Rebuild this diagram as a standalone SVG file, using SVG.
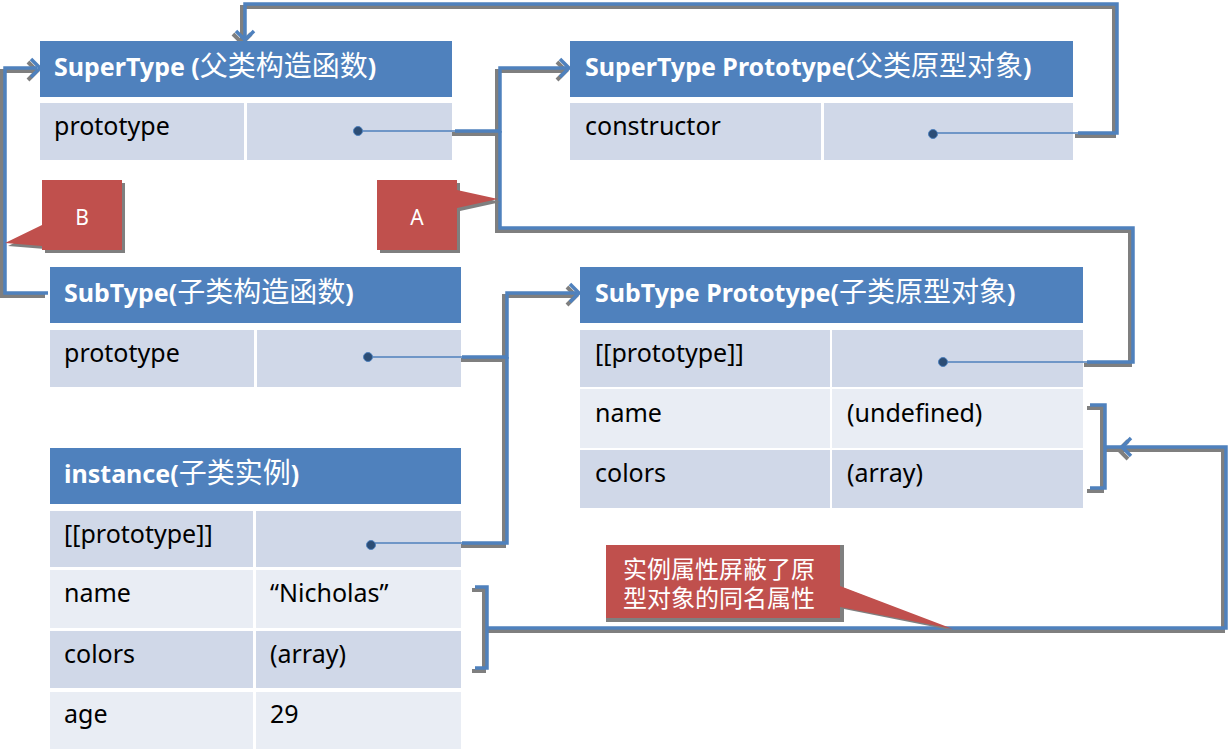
<svg xmlns="http://www.w3.org/2000/svg" xmlns:xlink="http://www.w3.org/1999/xlink" width="1228" height="752" viewBox="0 0 1228 752">
<style>
text{font-family:"Noto Sans","Noto Sans CJK SC",sans-serif;}
.hd{fill:#4F81BD;}
.dk{fill:#D0D8E8;}
.lt{fill:#E9EDF4;}
.h{font-size:25px;font-weight:bold;fill:#fff;}
.cj{font-size:28px;font-weight:normal;font-family:"Noto Sans CJK SC",sans-serif;}
.r{font-size:25px;fill:#000;}
.call{fill:#C0504D;}
.callsh{fill:#7F7F7F;}
.ct{font-size:24px;fill:#fff;font-family:"Noto Sans CJK SC",sans-serif;}
.lbl{font-size:21px;fill:#fff;}
.sh{stroke:#7F7F7F;stroke-width:4;fill:none;}
.ln{stroke:#4F81BD;stroke-width:3.5;fill:none;}
.thin{stroke:#4F81BD;stroke-width:1.6;fill:none;}
.dot{fill:#2C4D75;stroke:#4F81BD;stroke-width:1;}
</style>
<defs>
<path id="c1" d="M455,131 H500 V68 H567"/>
<path id="c2" d="M1087,362 H1133 V228 H500 V131"/>
<path id="c3" d="M1078,133 H1117 V4 H245 V38"/>
<path id="c4" d="M48,293 H5 V68 H37"/>
<path id="c5" d="M462,357 H507 V293 H577"/>
<path id="c6" d="M462,543 H507 V357"/>
<path id="c7" d="M1090,405 H1105 V488 H1090 M1105,447 H1123"/>
<path id="c8" d="M475,587 H487 V668 H475 M487,628 H1226 V447 H1124"/>
<path id="a1" d="M560,59 L569,68 L560,77"/>
<path id="a2" d="M236,31 L245,40 L254,31"/>
<path id="a3" d="M31,59 L40,68 L31,77"/>
<path id="a4" d="M570,284 L579,293 L570,302"/>
<path id="a5" d="M1131,438 L1122,447 L1131,456"/>
</defs>

<g id="connectors">
<g transform="translate(-3,3)" class="sh">
<use xlink:href="#c1"/><use xlink:href="#c2"/><use xlink:href="#c3"/><use xlink:href="#c4"/>
<use xlink:href="#c5"/><use xlink:href="#c6"/><use xlink:href="#c7"/><use xlink:href="#c8"/>
<use xlink:href="#a1"/><use xlink:href="#a2"/><use xlink:href="#a3"/><use xlink:href="#a4"/><use xlink:href="#a5"/>
</g>
<g class="ln">
<use xlink:href="#c1"/><use xlink:href="#c2"/><use xlink:href="#c3"/><use xlink:href="#c4"/>
<use xlink:href="#c5"/><use xlink:href="#c6"/><use xlink:href="#c7"/><use xlink:href="#c8"/>
<use xlink:href="#a1"/><use xlink:href="#a2"/><use xlink:href="#a3"/><use xlink:href="#a4"/><use xlink:href="#a5"/>
</g>
</g>

<g id="supertype">
<rect class="hd" x="40" y="41" width="412" height="56"/>
<rect class="dk" x="40" y="103" width="204" height="57"/>
<rect class="dk" x="247" y="103" width="205" height="57"/>
<text class="h" x="54" y="76">SuperType (<tspan class="cj">父类构造函数</tspan>)</text>
<text class="r" x="54" y="135">prototype</text>
<line class="thin" x1="358" y1="131" x2="455" y2="131"/>
<circle class="dot" cx="358" cy="131" r="4.5"/>
</g>

<g id="supertype-prototype">
<rect class="hd" x="570" y="41" width="503" height="56"/>
<rect class="dk" x="570" y="103" width="251" height="57"/>
<rect class="dk" x="824" y="103" width="249" height="57"/>
<text class="h" x="585" y="76">SuperType Prototype(<tspan class="cj">父类原型对象</tspan>)</text>
<text class="r" x="585" y="135">constructor</text>
<line class="thin" x1="933" y1="133" x2="1078" y2="133"/>
<circle class="dot" cx="933" cy="134" r="4.5"/>
</g>

<g id="subtype">
<rect class="hd" x="50" y="267" width="411" height="56"/>
<rect class="dk" x="50" y="330" width="204" height="57"/>
<rect class="dk" x="257" y="330" width="204" height="57"/>
<text class="h" x="64" y="302">SubType(<tspan class="cj">子类构造函数</tspan>)</text>
<text class="r" x="64" y="362">prototype</text>
<line class="thin" x1="368" y1="357" x2="462" y2="357"/>
<circle class="dot" cx="368" cy="357" r="4.5"/>
</g>

<g id="subtype-prototype">
<rect class="hd" x="580" y="267" width="503" height="56"/>
<rect class="dk" x="580" y="330" width="250" height="57"/>
<rect class="dk" x="832" y="330" width="251" height="57"/>
<rect class="lt" x="580" y="389" width="250" height="59"/>
<rect class="lt" x="832" y="389" width="251" height="59"/>
<rect class="dk" x="580" y="450" width="250" height="58"/>
<rect class="dk" x="832" y="450" width="251" height="58"/>
<text class="h" x="595" y="302">SubType Prototype(<tspan class="cj">子类原型对象</tspan>)</text>
<text class="r" x="595" y="362">[[prototype]]</text>
<text class="r" x="595" y="422">name</text>
<text class="r" x="847" y="422">(undefined)</text>
<text class="r" x="595" y="482">colors</text>
<text class="r" x="847" y="482">(array)</text>
<line class="thin" x1="943" y1="362" x2="1087" y2="362"/>
<circle class="dot" cx="943" cy="362" r="4.5"/>
</g>

<g id="instance">
<rect class="hd" x="50" y="448" width="411" height="56"/>
<rect class="dk" x="50" y="511" width="203" height="56"/>
<rect class="dk" x="256" y="511" width="205" height="56"/>
<rect class="lt" x="50" y="570" width="203" height="58"/>
<rect class="lt" x="256" y="570" width="205" height="58"/>
<rect class="dk" x="50" y="631" width="203" height="57"/>
<rect class="dk" x="256" y="631" width="205" height="57"/>
<rect class="lt" x="50" y="692" width="203" height="57"/>
<rect class="lt" x="256" y="692" width="205" height="57"/>
<text class="h" x="64" y="483">instance(<tspan class="cj">子类实例</tspan>)</text>
<text class="r" x="64" y="543">[[prototype]]</text>
<text class="r" x="64" y="602">name</text>
<text class="r" x="270" y="602">“Nicholas”</text>
<text class="r" x="64" y="663">colors</text>
<text class="r" x="270" y="663">(array)</text>
<text class="r" x="64" y="723">age</text>
<text class="r" x="270" y="723">29</text>
<line class="thin" x1="371" y1="543" x2="462" y2="543"/>
<circle class="dot" cx="371" cy="545" r="4.5"/>
</g>

<g id="callout-b">
<path class="callsh" transform="translate(3,3)" d="M42,180 H122 V250 H42 V246 L5,243 L42,225 Z"/>
<path class="call" d="M42,180 H122 V250 H42 V246 L5,243 L42,225 Z"/>
<text class="lbl" x="82" y="225" text-anchor="middle">B</text>
</g>

<g id="callout-a">
<path class="callsh" transform="translate(3,3)" d="M377,180 H457 V190 L498,199 L457,208 V250 H377 Z"/>
<path class="call" d="M377,180 H457 V190 L498,199 L457,208 V250 H377 Z"/>
<text class="lbl" x="417" y="225" text-anchor="middle">A</text>
</g>

<g id="callout-c">
<path class="callsh" transform="translate(2,2)" d="M604,543 H842 V586 L953,629 L842,607 V620 H604 Z"/>
<path class="call" d="M606,545 H840 V586 L953,629 L840,607 V618 H606 Z"/>
<text class="ct" x="623" y="578">实例属性屏蔽了原<tspan x="623" dy="29">型对象的同名属性</tspan></text>
</g>
</svg>
